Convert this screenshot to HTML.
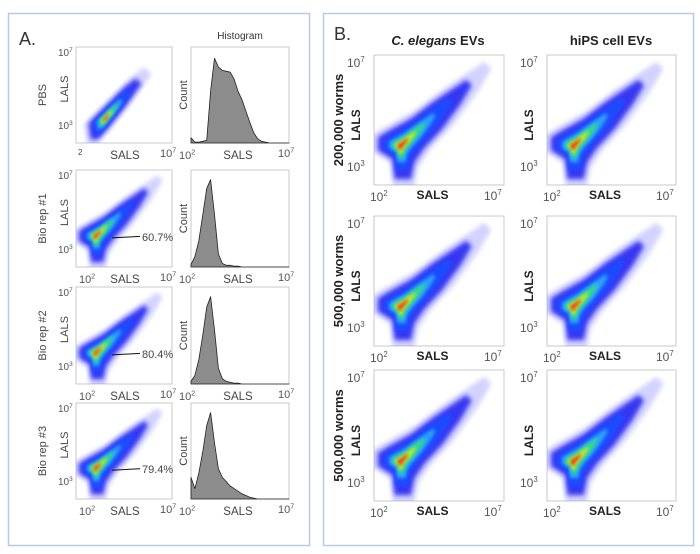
<!DOCTYPE html>
<html><head><meta charset="utf-8"><style>
html,body{margin:0;padding:0;background:#fff;width:700px;height:554px;overflow:hidden}
svg text{font-family:"Liberation Sans",Arial,sans-serif}
</style></head><body>
<svg id="fig" width="700" height="554" viewBox="0 0 700 554" xmlns="http://www.w3.org/2000/svg">
<defs>
<filter id="bl" x="-10%" y="-10%" width="120%" height="120%"><feGaussianBlur stdDeviation="1.5"/></filter>
<filter id="bl2" x="-10%" y="-10%" width="120%" height="120%"><feGaussianBlur stdDeviation="2.5"/></filter>
</defs>
<rect x="8.5" y="13.5" width="301" height="532" fill="none" stroke="#b9c9e6" stroke-width="1.5"/>
<rect x="323.5" y="13.5" width="370" height="532" fill="none" stroke="#b9c9e6" stroke-width="1.5"/>
<text x="19" y="45" font-size="18" fill="#333">A.</text>
<text x="334" y="40" font-size="18" fill="#333">B.</text>
<text x="240" y="39" font-size="10" fill="#333" text-anchor="middle">Histogram</text>
<text x="438" y="45" font-size="13" font-weight="bold" fill="#222" text-anchor="middle"><tspan font-style="italic">C. elegans</tspan> EVs</text>
<text x="611" y="45" font-size="13" font-weight="bold" fill="#222" text-anchor="middle">hiPS cell EVs</text>
<g id="g"></g>
</svg>
<script>
// ---- data ----
const histBins = [0,0.04,0.08,0.12,0.16,0.2,0.24,0.28,0.32,0.36,0.4,0.44,0.48,0.52,0.56,0.6,0.64,0.68,0.72,0.76,0.8,0.84,0.88,0.92,0.96,1.0];
const histPBS  = [0.06,0.01,0.01,0.02,0.03,0.6,0.98,0.88,0.84,0.83,0.82,0.74,0.6,0.5,0.37,0.24,0.12,0.05,0.02,0.01,0,0,0,0,0,0];
const histRep1 = [0.03,0.12,0.3,0.6,0.9,1.0,0.6,0.15,0.04,0.02,0.02,0.01,0.01,0,0,0,0,0,0,0,0,0,0,0,0,0];
const histRep2 = [0.03,0.1,0.28,0.56,0.88,1.0,0.62,0.18,0.06,0.03,0.02,0.01,0.01,0,0,0,0,0,0,0,0,0,0,0,0,0];
const histRep3 = [0.25,0.12,0.3,0.55,0.85,1.0,0.65,0.35,0.25,0.2,0.15,0.12,0.09,0.06,0.04,0.02,0.01,0,0,0,0,0,0,0,0,0];
const gatePercents = ["60.7%","80.4%","79.4%"];
const rowLabelsA = ["PBS","Bio rep #1","Bio rep #2","Bio rep #3"];
const rowLabelsB = ["200,000 worms","500,000 worms","500,000 worms"];
const NS="http://www.w3.org/2000/svg";
const G=document.getElementById('g');
function mk(tag,attrs,parent){const e=document.createElementNS(NS,tag);for(const k in attrs)e.setAttribute(k,attrs[k]);(parent||G).appendChild(e);return e;}
function txt(x,y,s,size,opts,parent){const t=mk('text',Object.assign({x:x,y:y,'font-size':size,fill:'#444'},opts||{}),parent);t.textContent=s;return t;}
function pow(x,y,base,exp,size,bold,name){const t=mk('text',{x:x,y:y,'font-size':size,fill:'#555','font-weight':bold?'bold':'normal'});


t.textContent=base;const s=mk('tspan',{dy:-size*0.4,'font-size':size*0.65},t);s.textContent=exp;return t;}

const outer=[[0,0.62],[0.1,0.56],[0.3,0.45],[0.5,0.3],[0.68,0.18],[0.8,0.1],[0.85,0.15],[0.75,0.32],[0.58,0.55],[0.42,0.72],[0.33,0.85],[0.3,1],[0.15,1],[0.13,0.82],[0,0.74]];
const band=[[0.12,0.95],[0.1,0.8],[0.3,0.6],[0.55,0.35],[0.68,0.25],[0.75,0.32],[0.55,0.6],[0.35,0.85],[0.22,1],[0.13,1]];
function cloud(x0,y0,w,h,shape,core,name,clip){
  const grp=mk('g',{'clip-path':'url(#'+clip+')'});
  
  
  const layers=[[1.08,'#8080ff',0.35,'bl2'],[0.85,'#1e1ef0',0.85,'bl2'],[0.62,'#1a4cff',1,'bl'],[0.42,'#2aa0ff',1,'bl'],[0.3,'#30d890',1,'bl'],[0.19,'#c8e62a',1,'bl'],[0.1,'#f0301c',1,'bl']];
  layers.forEach(L=>{
    const f=L[0];
    const pts=shape.map(p=>{const u=core[0]+(p[0]-core[0])*f, v=core[1]+(p[1]-core[1])*f;return (x0+u*w).toFixed(1)+','+(y0+v*h).toFixed(1);}).join(' ');
    mk('polygon',{points:pts,fill:L[1],opacity:L[2],filter:'url(#'+L[3]+')'},grp);
  });
}
let clipId=0;
function scatter(x0,y0,w,h,shape,core,name){
  const id='c'+(clipId++);
  const cp=mk('clipPath',{id:id});mk('rect',{x:x0,y:y0,width:w,height:h},cp);
  mk('rect',{x:x0,y:y0,width:w,height:h,fill:'#fff',stroke:'#bbb','stroke-width':0.8});
  cloud(x0,y0,w,h,shape,core,name,id);
}
function hist(x0,y0,w,h,vals,name){
  mk('rect',{x:x0,y:y0,width:w,height:h,fill:'#fff',stroke:'#bbb','stroke-width':0.8});
  const X=u=>x0+u*w, Y=c=>y0+h-c*h*0.9;
  let d='M'+X(histBins[0])+','+Y(0);
  vals.forEach((v,i)=>{d+=' L'+X(histBins[i]).toFixed(1)+','+Y(v).toFixed(1);});
  d+=' L'+X(1)+','+Y(0)+' Z';
  const p=mk('path',{d:d,fill:'#8c8c8c',stroke:'#222','stroke-width':0.8,'stroke-linejoin':'round'});
  
  
}
// ---- Panel A ----
const rowsA=[[47,96],[170,97],[287,97],[403,96]];
const hists=[histPBS,histRep1,histRep2,histRep3];
rowsA.forEach((r,i)=>{
  const y0=r[0],h=r[1];
  scatter(76,y0,96,h,i==0?band:outer,i==0?[0.3,0.75]:[0.2,0.68],'scatter-a-'+i);
  hist(191,y0,98,h,hists[i],'histogram-a-'+i);
  const lab=txt(46,y0+h/2,rowLabelsA[i],11,{transform:'rotate(-90 46 '+(y0+h/2)+')','text-anchor':'middle'});
  
  const la=txt(68,y0+h/2-6,'LALS',11,{transform:'rotate(-90 68 '+(y0+h/2-6)+')','text-anchor':'middle'});
  
  const ca=txt(187,y0+h/2,'Count',11,{transform:'rotate(-90 187 '+(y0+h/2)+')','text-anchor':'middle'});
  
  pow(58,y0+9,'10','7',10,false,'y-tick-top-a-'+i);
  pow(58,y0+h-14,'10','3',10,false,'y-tick-bottom-a-'+i);
  if(i==0){const t=txt(78,y0+h+12,'2',8);}
  else pow(79,y0+h+16,'10','2',11,false,'x-tick-left-a-'+i);
  const s=txt(125,y0+h+16,'SALS',11.5,{'text-anchor':'middle'});
  pow(160,y0+h+14,'10','7',11,false,'x-tick-right-a-'+i);
  pow(179,y0+h+16,'10','2',11,false,'hist-tick-left-a-'+i);
  const s2=txt(238,y0+h+16,'SALS',11.5,{'text-anchor':'middle'});
  pow(278,y0+h+14,'10','7',11,false,'hist-tick-right-a-'+i);
  if(i>0){
    const gy=y0+h*0.7;
    const l=mk('line',{x1:112,y1:gy,x2:140,y2:gy-1.5,stroke:'#111','stroke-width':1});
    
    const g=txt(142,gy+3,gatePercents[i-1],11,{fill:'#444'});
    
  }
});
// ---- Panel B ----
const rowsB=[[55,130],[216,130],[370,131]];
const colsB=[[374,130],[547,129]];
rowsB.forEach((r,i)=>{
  colsB.forEach((c,j)=>{
    const x0=c[0],w=c[1],y0=r[0],h=r[1];
    scatter(x0,y0,w,h,outer,[0.2,0.7],'scatter-b-'+i+'-'+j);
    const la=txt(x0-14,y0+h/2+5,'LALS',12,{transform:'rotate(-90 '+(x0-14)+' '+(y0+h/2+5)+')','text-anchor':'middle','font-weight':'bold',fill:'#222'});
    
    pow(x0-27,y0+12,'10','7',12,false,'y-tick-top-b-'+i+'-'+j);
    pow(x0-27,y0+h-14,'10','3',12,false,'y-tick-bottom-b-'+i+'-'+j);
    pow(x0-4,y0+h+16,'10','2',12,false,'x-tick-left-b-'+i+'-'+j);
    const s=txt(x0+w*0.45,y0+h+14,'SALS',12,{'text-anchor':'middle','font-weight':'bold',fill:'#222'});
    
    pow(x0+w-20,y0+h+15,'10','7',12,false,'x-tick-right-b-'+i+'-'+j);
  });
  const lab=txt(343,r[0]+r[1]/2,rowLabelsB[i],13,{transform:'rotate(-90 343 '+(r[0]+r[1]/2)+')','text-anchor':'middle','font-weight':'bold',fill:'#222'});
  
});
</script>
</body></html>
